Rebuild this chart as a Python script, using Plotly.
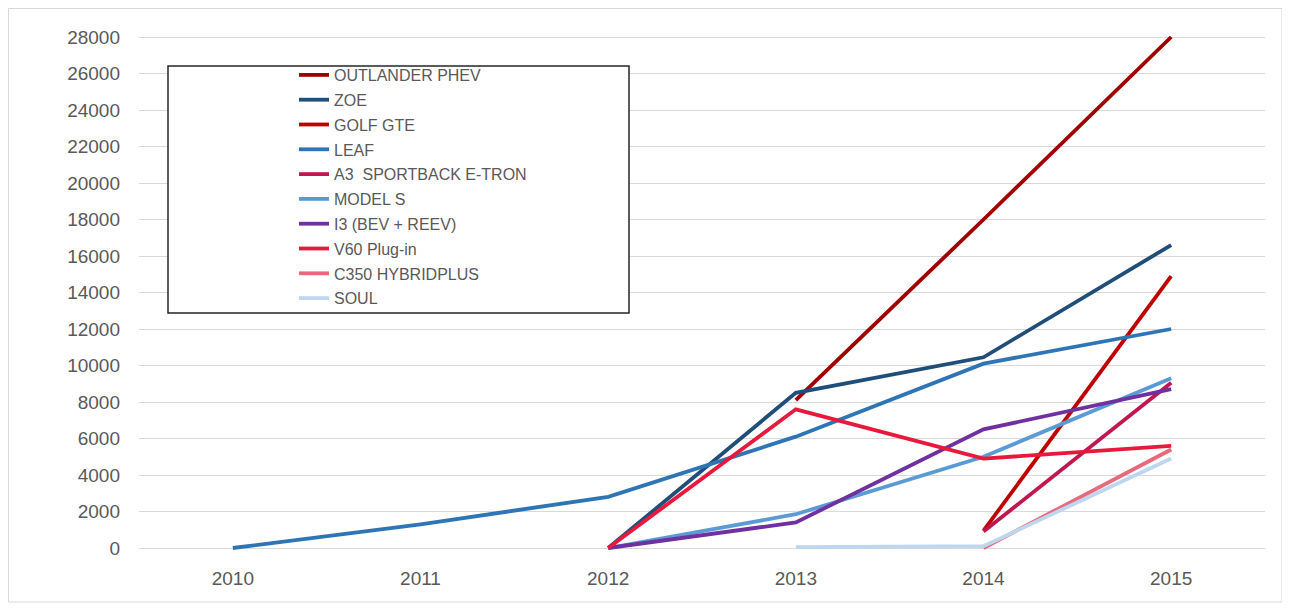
import plotly.graph_objects as go

years = ["2010", "2011", "2012", "2013", "2014", "2015"]

series_names = [
    "OUTLANDER PHEV", "ZOE", "GOLF GTE", "LEAF", "A3  SPORTBACK E-TRON",
    "MODEL S", "I3 (BEV + REEV)", "V60 Plug-in", "C350 HYBRIDPLUS", "SOUL",
]

outlander = [None, None, None, 8100, 18000, 28000]
zoe = [None, None, 0, 8500, 10450, 16600]
golf_gte = [None, None, None, None, 950, 14900]
leaf = [0, 1300, 2800, 6100, 10100, 12000]
a3_etron = [None, None, None, None, 900, 9050]
model_s = [None, None, 0, 1850, 5000, 9300]
i3 = [None, None, 0, 1400, 6500, 8700]
v60 = [None, None, 0, 7600, 4900, 5600]
c350 = [None, None, None, None, 0, 5400]
soul = [None, None, None, 50, 100, 4900]

series_values = [outlander, zoe, golf_gte, leaf, a3_etron, model_s, i3, v60, c350, soul]

colors = ["#A00000", "#1F4E79", "#C00000", "#2E75B6", "#C0174E",
          "#5B9BD5", "#7030A0", "#E8193C", "#E8697D", "#BDD7EE"]

y_ticks = list(range(0, 28001, 2000))

# page has an 8px body margin; figure coordinates = reference pixels - 8
OFF = 8
W, H = 1290 - 2 * OFF, 611 - 2 * OFF
L, R, T, B = 139 - OFF, W - (1265 - OFF), 32 - OFF, H - (553 - OFF)
pw, ph = W - L - R, H - T - B


def px(x):
    return (x - OFF - L) / pw


def py(y):
    return (H - B - (y - OFF)) / ph


fig = go.Figure()
for i, (name, vals, col) in enumerate(zip(series_names, series_values, colors)):
    fig.add_trace(go.Scatter(
        x=years, y=vals, name=name, mode="lines",
        line=dict(color=col, width=3.8),
        legendgroup=f"g{i}",
        connectgaps=False,
    ))

font_family = "Liberation Sans, Arial, sans-serif"

fig.update_layout(
    width=W, height=H,
    margin=dict(l=L, r=R, t=T, b=B),
    plot_bgcolor="white", paper_bgcolor="white",
    font=dict(family=font_family, color="#595959"),
    xaxis=dict(
        type="category", range=[-0.5, 5.5],
        showgrid=False, zeroline=False, showline=False,
        ticks="", tickfont=dict(size=19, color="#595959"),
        ticklabelstandoff=12,
    ),
    yaxis=dict(
        range=[-274, 28274], tickvals=y_ticks,
        ticktext=[str(v) for v in y_ticks],
        showgrid=True, gridcolor="#D9D9D9", gridwidth=1,
        zeroline=False, showline=False, ticks="",
        tickfont=dict(size=19, color="#595959"),
        ticklabelstandoff=18,
    ),
    legend=dict(
        x=px(294), y=py(58), xanchor="left", yanchor="top",
        bgcolor="rgba(0,0,0,0)", borderwidth=0,
        font=dict(size=16, color="#595959", family=font_family),
        tracegroupgap=1, traceorder="grouped",
        itemwidth=30,
    ),
    showlegend=True,
    shapes=[
        dict(type="rect", xref="paper", yref="paper",
             x0=px(8.5), x1=px(1282), y0=py(602), y1=py(8.5),
             line=dict(color="#D9D9D9", width=1), fillcolor="rgba(0,0,0,0)",
             layer="below"),
        dict(type="rect", xref="paper", yref="paper",
             x0=px(168), x1=px(629), y0=py(313), y1=py(66),
             line=dict(color="#262626", width=1.5), fillcolor="white",
             layer="above"),
    ],
)

fig.write_html("out.html")
